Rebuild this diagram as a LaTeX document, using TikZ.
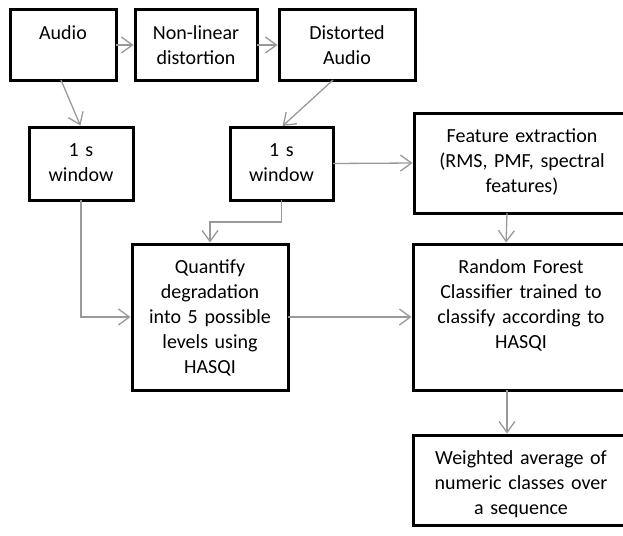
\documentclass[tikz,border=0pt]{standalone}
\usepackage{fontspec}
\setmainfont{Carlito}
\usetikzlibrary{arrows.meta}
\begin{document}
\begin{tikzpicture}[x=1pt,y=-1pt,
  box/.style={draw,line width=3pt,inner sep=0pt,outer sep=0pt,anchor=north west,align=center,
    text height=29.5pt,font=\fontsize{20}{25}\selectfont},
  flow/.style={draw=black!40,line width=1.3pt,shorten >=1.5pt,
    -{Straight Barb[length=11pt,width=16pt]}}]
\useasboundingbox (0,0) rectangle (623,535);
\node[box,text width=106pt,text depth=40.5pt] (audio) at (10,10) {Audio};
\node[box,text width=122pt,text depth=40.5pt] (nonlin) at (135,10) {Non-linear\\distortion};
\node[box,text width=136pt,text depth=40.5pt] (dist) at (279,10) {Distorted\\Audio};
\node[box,text width=104pt,text depth=43.5pt] (win1) at (29,127) {1 s\\window};
\node[box,text width=103pt,text depth=43.5pt] (win2) at (230,127) {1 s\\window};
\node[box,text width=216pt,text depth=70.5pt] (feat) at (414,113) {Feature extraction\\(RMS, PMF, spectral\\features)};
\node[box,text width=156pt,text depth=116.5pt] (quant) at (132,244) {Quantify\\degradation\\into 5 possible\\levels using\\HASQI};
\node[box,text width=216pt,text depth=116.5pt] (rf) at (413,244) {Random Forest\\Classifier trained to\\classify according to\\HASQI};
\node[box,text width=216pt,text depth=60.5pt] (weight) at (413,435) {Weighted average of\\numeric classes over\\a sequence};
\draw[flow] (audio.east) -- (nonlin.west);
\draw[flow] (nonlin.east) -- (dist.west);
\draw[flow] ([xshift=-2pt]audio.south) -- (win1.north);
\draw[flow] ([xshift=-14pt]dist.south) -- (win2.north);
\draw[flow] (win2.east) -- (feat.west);
\draw[flow] (win1.south) |- (quant.west);
\draw[flow] (win2.south) -- ++(0,22) -| (quant.north);
\draw[flow] (quant.east) -- (rf.west);
\draw[flow] ([xshift=-15pt]feat.south) -- ([xshift=-15pt]rf.north);
\draw[flow] ([xshift=-14pt]rf.south) -- ([xshift=-14pt]weight.north);
\end{tikzpicture}
\end{document}
